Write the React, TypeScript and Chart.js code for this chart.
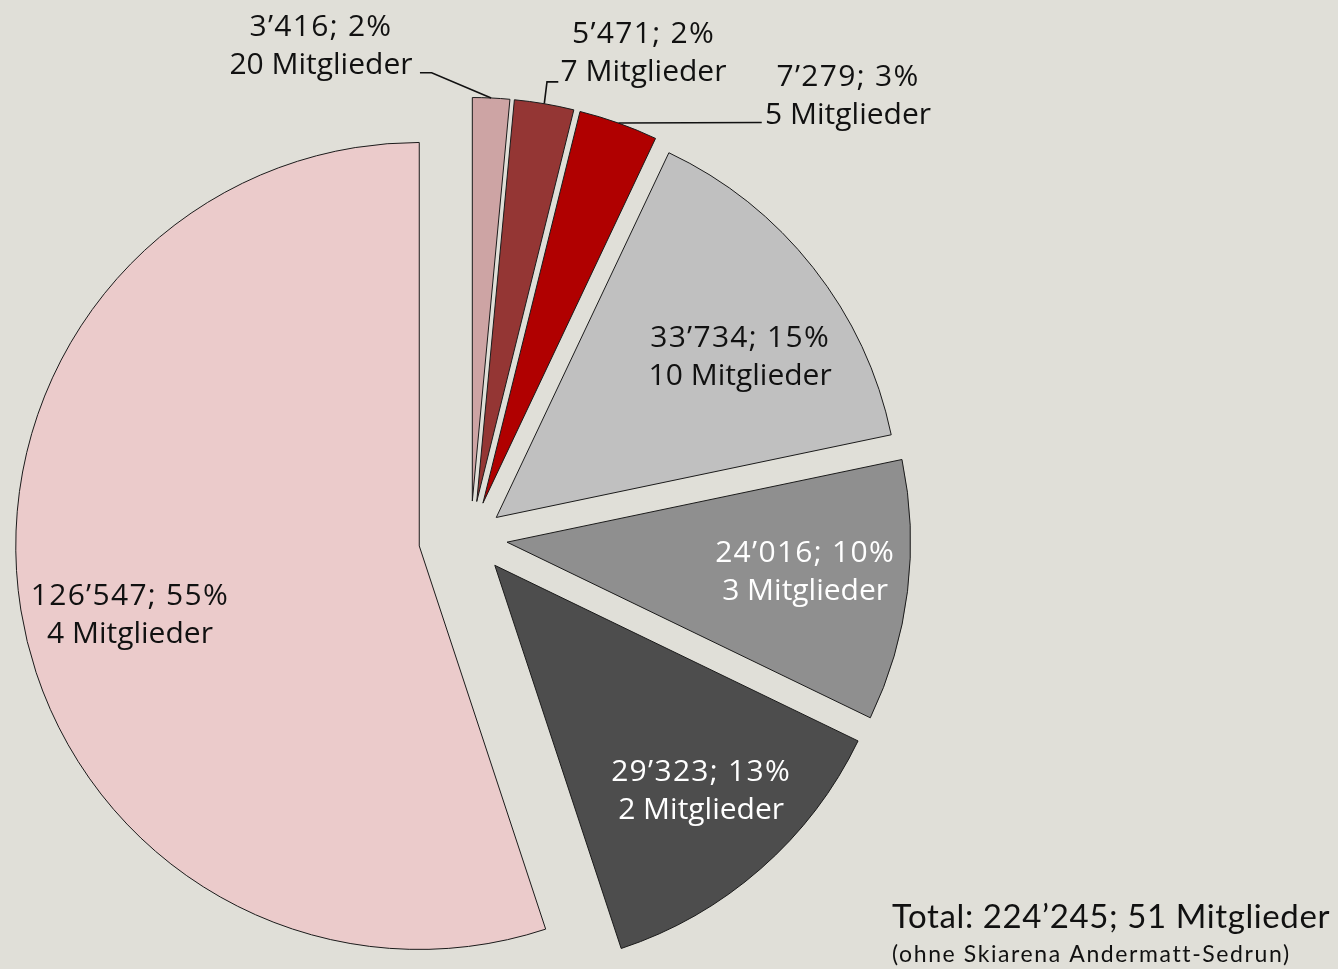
import React, { useEffect, useRef } from "react";
import { Chart, registerables } from "chart.js";

Chart.register(...registerables);

// ---------- data ----------
const values = [3416, 5471, 7279, 33734, 24016, 29323, 126547];
const percents = [2, 2, 3, 15, 10, 13, 55];
const members = [20, 7, 5, 10, 3, 2, 4];
const categories = members.map((m) => `${m} Mitglieder`);
const totalValue = 224245;
const totalMembers = 51;
const noteText = "(ohne Skiarena Andermatt-Sedrun)";

// ---------- styles ----------
const sliceColors = ["#cda4a4", "#943634", "#b00000", "#c0c0c0", "#8f8f8f", "#4d4d4d", "#ebcbcb"];
const labelColors = ["#111", "#111", "#111", "#111", "#ffffff", "#ffffff", "#111"];
const explodeOffsets = [36.7, 36.7, 36.7, 32.7, 36.7, 36.7, 52];
const BG = "#e0dfd8";

// inside labels: radial fraction of radius + angular nudge (deg)
const insidePlacement: Record<number, { k: number; da: number }> = {
  3: { k: 0.726, da: 4.6 },
  4: { k: 0.742, da: -1.6 },
  5: { k: 0.755, da: -1.4 },
  6: { k: 0.736, da: -3.9 },
};
// outside labels: text block offset & leader-line bends, relative to arc outer midpoint
const outsidePlacement: Record<number, { text: [number, number]; leader: [number, number][] }> = {
  0: { text: [-170.2, -53.7], leader: [[-59.5, -25.2], [-71.2, -25.2]] },
  1: { text: [99.2, -52.5], leader: [[2.7, -21.8], [14, -21.8]] },
  2: { text: [229.6, -28.6], leader: [[143.3, -0.5]] },
};

const FS = 30;
const LABEL_FONT = `${FS}px "Open Sans"`;
const LINE_GAP = 38;
const CAP = 0.714 * FS;
const NUMBER_SPACING = ["1.3px", "0px"];

const fmt = (v: number) => String(v).replace(/\B(?=(\d{3})+(?!\d))/g, "’");

function drawBlock(ctx: CanvasRenderingContext2D, lines: string[], cx: number, cy: number, color: string) {
  ctx.fillStyle = color;
  ctx.textAlign = "center";
  ctx.textBaseline = "alphabetic";
  ctx.font = LABEL_FONT;
  lines.forEach((t, j) => {
    (ctx as any).letterSpacing = NUMBER_SPACING[j] || "0px";
    const capCenter = cy + (j - (lines.length - 1) / 2) * LINE_GAP;
    ctx.fillText(t, cx, capCenter + CAP / 2);
  });
  (ctx as any).letterSpacing = "0px";
}

const explodePlugin = {
  id: "explodeSlices",
  beforeDatasetsDraw(chart: any) {
    const meta = chart.getDatasetMeta(0);
    const { left, right, top, bottom } = chart.chartArea;
    const cx = (left + right) / 2;
    const cy = (top + bottom) / 2;
    meta.data.forEach((el: any, i: number) => {
      const a = (el.startAngle + el.endAngle) / 2;
      el.x = cx + explodeOffsets[i] * Math.cos(a);
      el.y = cy + explodeOffsets[i] * Math.sin(a);
    });
  },
};

const labelPlugin = {
  id: "sliceLabels",
  afterDatasetsDraw(chart: any) {
    const ctx: CanvasRenderingContext2D = chart.ctx;
    const meta = chart.getDatasetMeta(0);
    ctx.save();
    meta.data.forEach((el: any, i: number) => {
      const a = (el.startAngle + el.endAngle) / 2;
      const R = el.outerRadius;
      const lines = [`${fmt(values[i])}; ${percents[i]}%`, `${members[i]} Mitglieder`];
      if (insidePlacement[i]) {
        const { k, da } = insidePlacement[i];
        const ang = a + (da * Math.PI) / 180;
        drawBlock(ctx, lines, el.x + k * R * Math.cos(ang), el.y + k * R * Math.sin(ang), labelColors[i]);
      } else if (outsidePlacement[i]) {
        const px = el.x + R * Math.cos(a);
        const py = el.y + R * Math.sin(a);
        const p = outsidePlacement[i];
        ctx.beginPath();
        ctx.strokeStyle = "#111";
        ctx.lineWidth = 1.6;
        ctx.moveTo(px, py);
        p.leader.forEach(([dx, dy]) => ctx.lineTo(px + dx, py + dy));
        ctx.stroke();
        drawBlock(ctx, lines, px + p.text[0], py + p.text[1], labelColors[i]);
      }
    });
    ctx.restore();
  },
  afterDraw(chart: any) {
    const ctx: CanvasRenderingContext2D = chart.ctx;
    ctx.save();
    ctx.fillStyle = "#111";
    ctx.textAlign = "left";
    ctx.textBaseline = "alphabetic";
    ctx.font = `33px Lato`;
    (ctx as any).letterSpacing = "0.6px";
    ctx.fillText(`Total: ${fmt(totalValue)}; ${totalMembers} Mitglieder`, 892, 928);
    ctx.font = `23px Lato`;
    (ctx as any).letterSpacing = "1.6px";
    ctx.fillText(noteText, 892, 962);
    (ctx as any).letterSpacing = "0px";
    ctx.restore();
  },
};

export default function App() {
  const ref = useRef<HTMLCanvasElement | null>(null);
  useEffect(() => {
    if (!ref.current) return;
    const chart = new Chart(ref.current, {
      type: "pie",
      data: {
        labels: categories,
        datasets: [
          {
            data: values,
            backgroundColor: sliceColors,
            borderColor: "#1a1a1a",
            borderWidth: 1,
            borderJoinStyle: "miter",
            offset: 0,
            hoverOffset: 0,
          } as any,
        ],
      },
      options: {
        responsive: false,
        devicePixelRatio: 1,
        animation: false,
        events: [],
        radius: 403.5,
        rotation: 0,
        layout: { padding: { left: 0, right: 396.8, top: 106.4, bottom: 0 } },
        plugins: { legend: { display: false }, tooltip: { enabled: false } },
      } as any,
      plugins: [explodePlugin, labelPlugin],
    });
    return () => chart.destroy();
  }, []);
  return (
    <div style={{ position: "absolute", left: 0, top: 0, width: 1338, height: 969, background: BG, overflow: "hidden" }}>
      <canvas ref={ref} width={1338} height={969} style={{ display: "block", width: 1338, height: 969 }} />
    </div>
  );
}
